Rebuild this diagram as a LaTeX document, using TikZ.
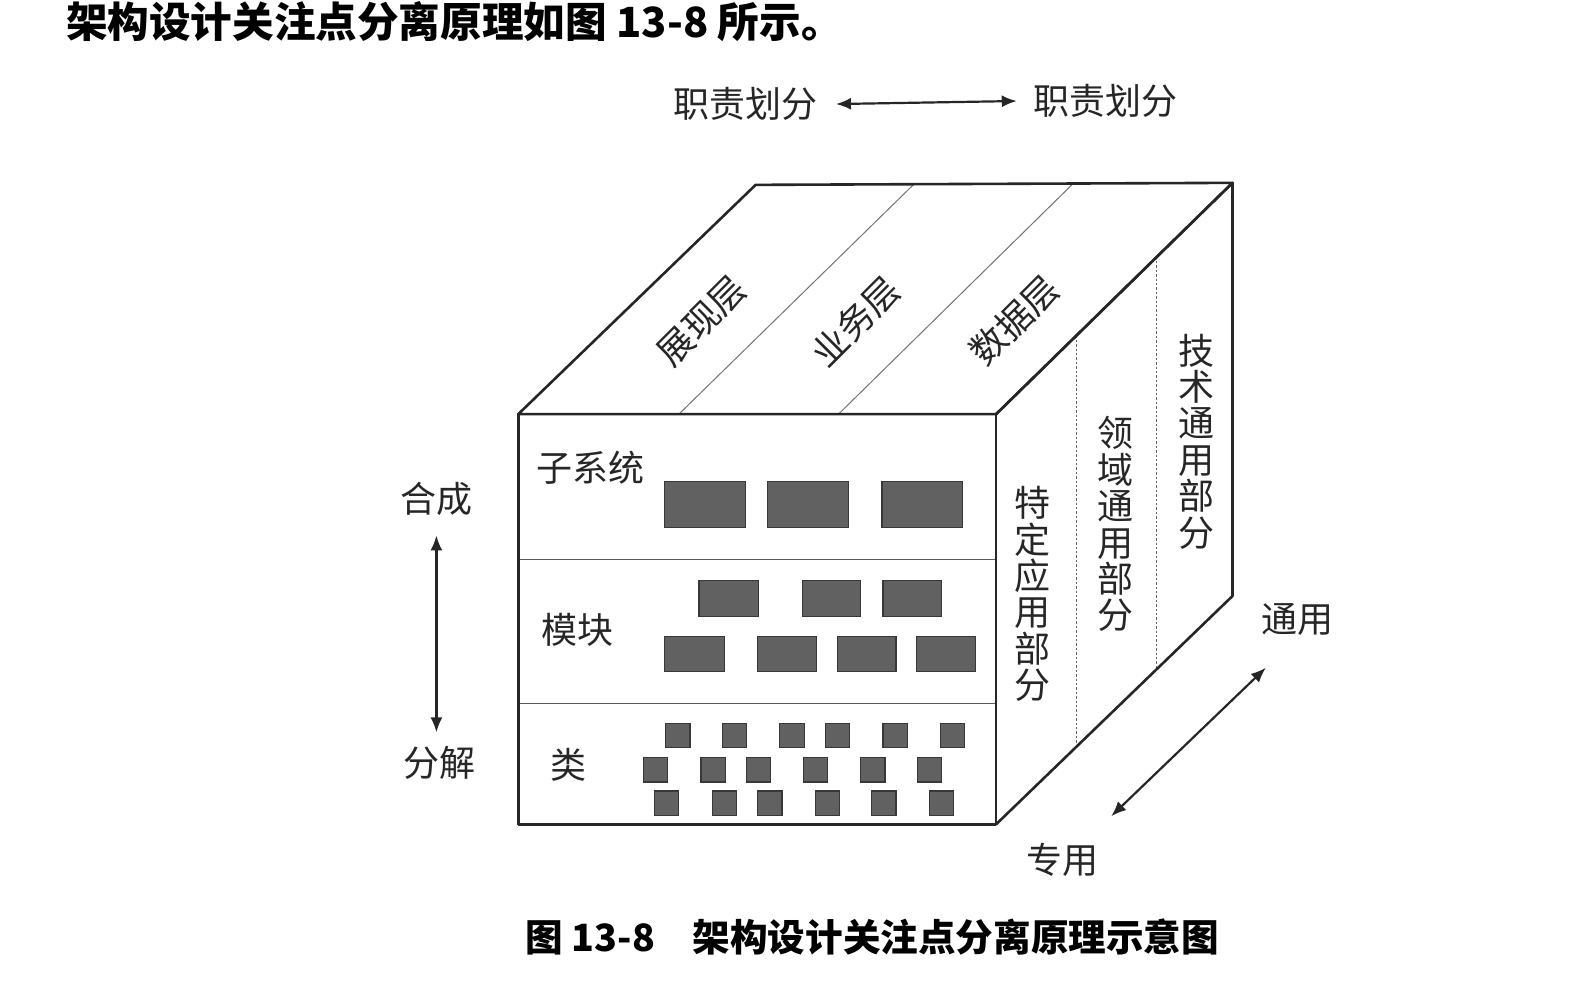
\documentclass[tikz,border=0pt]{standalone}
\usepackage{fontspec}
\newfontfamily\cjk{Noto Sans CJK SC}
\usetikzlibrary{arrows.meta,calc}

\begin{document}
\begin{tikzpicture}[x=0.5051pt,y=-0.5051pt,
  lbl/.style={font=\cjk\fontsize{18pt}{18pt}\selectfont, inner sep=0pt, text=black!85},
  vlbl/.style={lbl, align=center, font=\cjk\fontsize{18pt}{18.2pt}\selectfont},
  headtxt/.style={font=\cjk\bfseries\fontsize{20.8pt}{20.8pt}\selectfont, inner sep=0pt, anchor=west},
  captxt/.style={font=\cjk\bfseries\fontsize{18.8pt}{18.8pt}\selectfont, inner sep=0pt, anchor=west},
  cubeline/.style={line width=1.3pt, black!85, line join=round},
  hairline/.style={line width=0.5pt, black!55},
  dotline/.style={line width=0.6pt, black!60, dash pattern=on 1.2pt off 1pt},
  blk/.style={fill=black!62, draw=black!78, line width=0.6pt},
  dbl/.style={{Latex[length=7.5pt,width=6pt]}-{Latex[length=7.5pt,width=6pt]}, line width=1.1pt, black!85},
]
\useasboundingbox (0,0) rectangle (1568,988);

% heading line and caption
\node[headtxt] (head) at (65,21) {架构设计关注点分离原理如图 13-8 所示。};
\node[captxt] (cap) at (520,928) {图 13-8\hspace{1em}架构设计关注点分离原理示意图};

% cube corners
\coordinate (FTL) at (513,410);
\coordinate (FTR) at (986,410);
\coordinate (FBL) at (513,816);
\coordinate (FBR) at (986,816);
\coordinate (BTL) at (748,183);
\coordinate (BTR) at (1220,181);
\coordinate (BBR) at (1220,590);

% top face strips
\draw[hairline] (672,410) -- (904,183);
\draw[hairline] (830,410) -- (1062,182);
% right face strips
\draw[dotline] (1066,332) -- (1066,739);
\draw[dotline] (1145,254) -- (1145,662);
% front face layers
\draw[hairline, black!65] (513,554) -- (986,554);
\draw[hairline, black!65] (513,696) -- (986,696);

% cube outline
\draw[cubeline] (FTL) -- (BTL) -- (BTR) -- (FTR) -- cycle;
\draw[cubeline] (FTL) rectangle (FBR);
\draw[cubeline] (FTR) -- (BTR) -- (BBR) -- (FBR);

% subsystems
\path[blk] (658,477) rectangle (738,522);
\path[blk] (760,477) rectangle (840,522);
\path[blk] (873,477) rectangle (953,522);
% modules
\path[blk] (692,575) rectangle (751,610);
\path[blk] (794,575) rectangle (852,610);
\path[blk] (874,575) rectangle (932,610);
\path[blk] (658,630) rectangle (717,665);
\path[blk] (750,630) rectangle (808,665);
\path[blk] (829,630) rectangle (887,665);
\path[blk] (907,630) rectangle (966,665);
% classes
\foreach \x in {659,715,772,817,874,931}
  \path[blk] (\x,716) rectangle ++(24,24);
\foreach \x in {637,694,739,795,852,908}
  \path[blk] (\x,750) rectangle ++(24,24);
\foreach \x in {648,705,750,807,863,920}
  \path[blk] (\x,783) rectangle ++(24,24);

% layer names
\node[lbl] (sub) at (585,463) {子系统};
\node[lbl] (mod) at (572,623) {模块};
\node[lbl] (cls) at (563,757) {类};

% top face names
\node[lbl, rotate=45] (pres) at (695,318) {展现层};
\node[lbl, rotate=45] (biz) at (847,318) {业务层};
\node[lbl, rotate=45] (data) at (1004,317) {数据层};

% right face names
\node[vlbl] (spec) at (1022,588) {特\\定\\应\\用\\部\\分};
\node[vlbl] (dom) at (1104,519) {领\\域\\通\\用\\部\\分};
\node[vlbl] (tech) at (1184,437) {技\\术\\通\\用\\部\\分};

% axis labels and arrows
\node[lbl] (dutyL) at (738,103) {职责划分};
\node[lbl] (dutyR) at (1094,100) {职责划分};
\draw[dbl] ([xshift=9pt]dutyL.east) -- ([xshift=-8pt]dutyR.west);

\node[lbl] (comp) at (432,494) {合成};
\node[lbl] (decomp) at (435,755) {分解};
\draw[dbl] (432,530) -- (432,725);

\node[lbl] (gen) at (1284,613) {通用};
\node[lbl] (own) at (1052,851) {专用};
\coordinate (arrS) at (1100,808);
\coordinate (arrG) at (1253,661);
\draw[dbl] (arrS) -- (arrG);
\end{tikzpicture}
\end{document}
